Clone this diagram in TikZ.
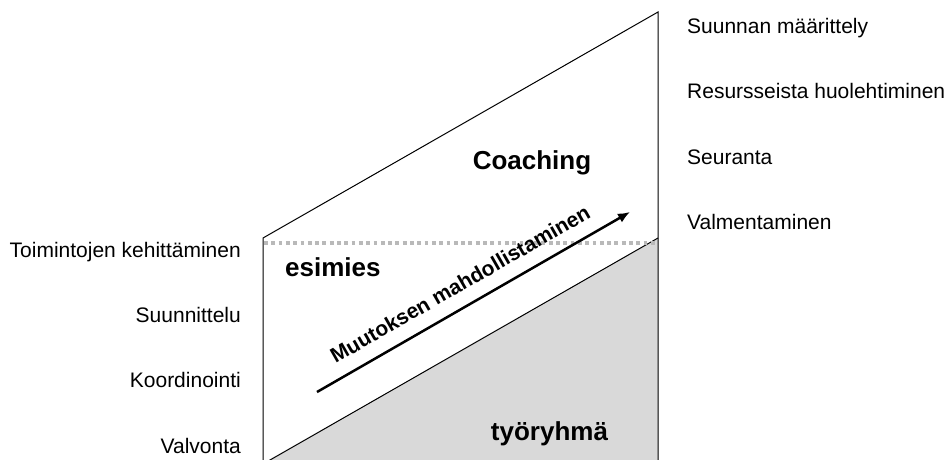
\documentclass[tikz,border=0pt]{standalone}
\usepackage{fontspec}
\setmainfont{Liberation Sans}
\usetikzlibrary{arrows.meta}
\definecolor{bandgray}{RGB}{217,217,217}
\definecolor{dotgray}{RGB}{185,185,185}

\tikzset{
  task/.style={font=\fontsize{21}{24}\selectfont, inner sep=0pt},
  level/.style={font=\fontsize{26}{30}\selectfont\bfseries, inner sep=0pt},
}

\begin{document}
\begin{tikzpicture}[x=1pt, y=-1pt]
  \useasboundingbox (0,0) rectangle (946,459);
  \begin{scope}
    \clip (0,0) rectangle (946,459);
    \fill[bandgray] (263,464) -- (658,238) -- (658,700) -- (263,700) -- cycle;
    \draw[line width=1pt] (263,700) -- (263,238) -- (658,12) -- (658,700);
    \draw[line width=1pt] (263,464) -- (658,238);
  \end{scope}
  \draw[dotgray, line width=4pt, dash pattern=on 3.8pt off 3.5pt] (264,242.5) -- (657,242.5);
  % right side
  \node[task, anchor=base west] (suunta) at (687,33) {Suunnan määrittely};
  \node[task, anchor=base west] (resurssit) at (687,98.5) {Resursseista huolehtiminen};
  \node[task, anchor=base west] (seuranta) at (687,164) {Seuranta};
  \node[task, anchor=base west] (valmennus) at (687,229.5) {Valmentaminen};
  % left side
  \node[task, anchor=base east] (kehitys) at (241,257) {Toimintojen kehittäminen};
  \node[task, anchor=base east] (suunnittelu) at (241,322) {Suunnittelu};
  \node[task, anchor=base east] (koordinointi) at (241,387.5) {Koordinointi};
  \node[task, anchor=base east] (valvonta) at (241,453) {Valvonta};
  % levels
  \node[level, anchor=base] (coaching) at (532,169.5) {Coaching};
  \node[level, anchor=base west] (esimies) at (285,276.5) {esimies};
  \node[level, anchor=base] (tyoryhma) at (549.5,440.5) {työryhmä};
  % change arrow
  \coordinate (muutosA) at (317,392);
  \coordinate (muutosB) at (630,212);
  \draw[line width=2.5pt, -{Latex[length=12pt,width=10pt]}] (muutosA) -- (muutosB);
  \node[font=\fontsize{21}{24}\selectfont\bfseries, rotate=29.8, inner sep=0pt] (muutos) at (460,284) {Muutoksen mahdollistaminen};
\end{tikzpicture}
\end{document}
